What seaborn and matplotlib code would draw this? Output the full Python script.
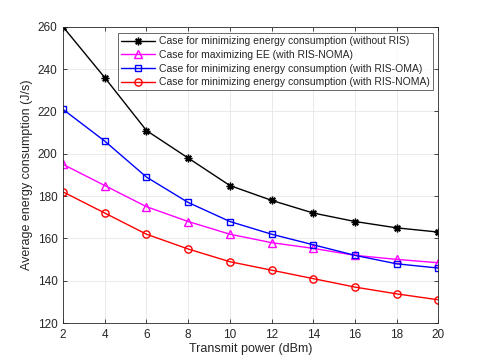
import matplotlib
matplotlib.use("Agg")
import matplotlib.pyplot as plt
import seaborn as sns
import pandas as pd

power = [2, 4, 6, 8, 10, 12, 14, 16, 18, 20]
no_ris = [260, 236, 211, 198, 185, 178, 172, 168, 165, 163]
max_ee = [195, 185, 175, 168, 162, 158, 155.3, 152, 150.1, 148.5]
ris_oma = [221, 206, 189, 177, 168, 162, 157, 152, 148, 146]
ris_noma = [182, 172, 162, 155, 149, 145, 141, 137, 133.8, 131]

labels = [
    "Case for minimizing energy consumption (without RIS)",
    "Case for maximizing EE (with RIS-NOMA)",
    "Case for minimizing energy consumption (with RIS-OMA)",
    "Case for minimizing energy consumption (with RIS-NOMA)",
]
series = [no_ris, max_ee, ris_oma, ris_noma]
colors = ["black", "#ff00ff", "#0000ff", "#ff0000"]
markers = [(8, 2, 0), "^", "s", "o"]
msizes = [5.5, 5.5, 4.8, 5.2]

rows = []
for lab, vals in zip(labels, series):
    for p, v in zip(power, vals):
        rows.append({"power": p, "value": v, "case": lab})
df = pd.DataFrame(rows)

sns.set_style("white")
plt.rcParams["font.family"] = ["Liberation Sans", "DejaVu Sans"]

fig = plt.figure(figsize=(4.85, 3.63), dpi=100)
ax = fig.add_axes([0.130, 0.110, 0.774, 0.816])

for lab, col, mk, ms in zip(labels, colors, markers, msizes):
    sub = df[df["case"] == lab]
    sns.lineplot(data=sub, x="power", y="value", ax=ax, color=col, marker=mk,
                 markersize=ms, markerfacecolor="none", markeredgecolor=col,
                 markeredgewidth=1.0, linewidth=1.0, label=lab)

ax.set_xlim(2, 20)
ax.set_ylim(120, 260)
ax.set_xticks(power)
ax.set_yticks(range(120, 261, 20))
ax.grid(True, color="#e6e6e6", linewidth=0.6)
ax.set_axisbelow(True)
for s in ax.spines.values():
    s.set_color("#262626")
    s.set_linewidth(0.6)
    s.set_visible(True)
ax.tick_params(direction="in", length=3, width=0.6, color="#262626",
               labelsize=8.5, labelcolor="#262626", top=True, right=True,
               bottom=True, left=True, pad=4)
ax.set_xlabel("Transmit power (dBm)", fontsize=9, color="#262626", labelpad=2)
ax.set_ylabel("Average energy consumption (J/s)", fontsize=9, color="#262626", labelpad=3)

leg = ax.legend(loc="upper right", bbox_to_anchor=(0.99, 0.985), fontsize=7.45,
                frameon=True, fancybox=False, edgecolor="#262626",
                borderpad=0.3, labelspacing=0.35, handlelength=3.3,
                handletextpad=0.35, borderaxespad=0.2)
leg.get_frame().set_linewidth(0.6)

fig.savefig("out.png", dpi=100)
